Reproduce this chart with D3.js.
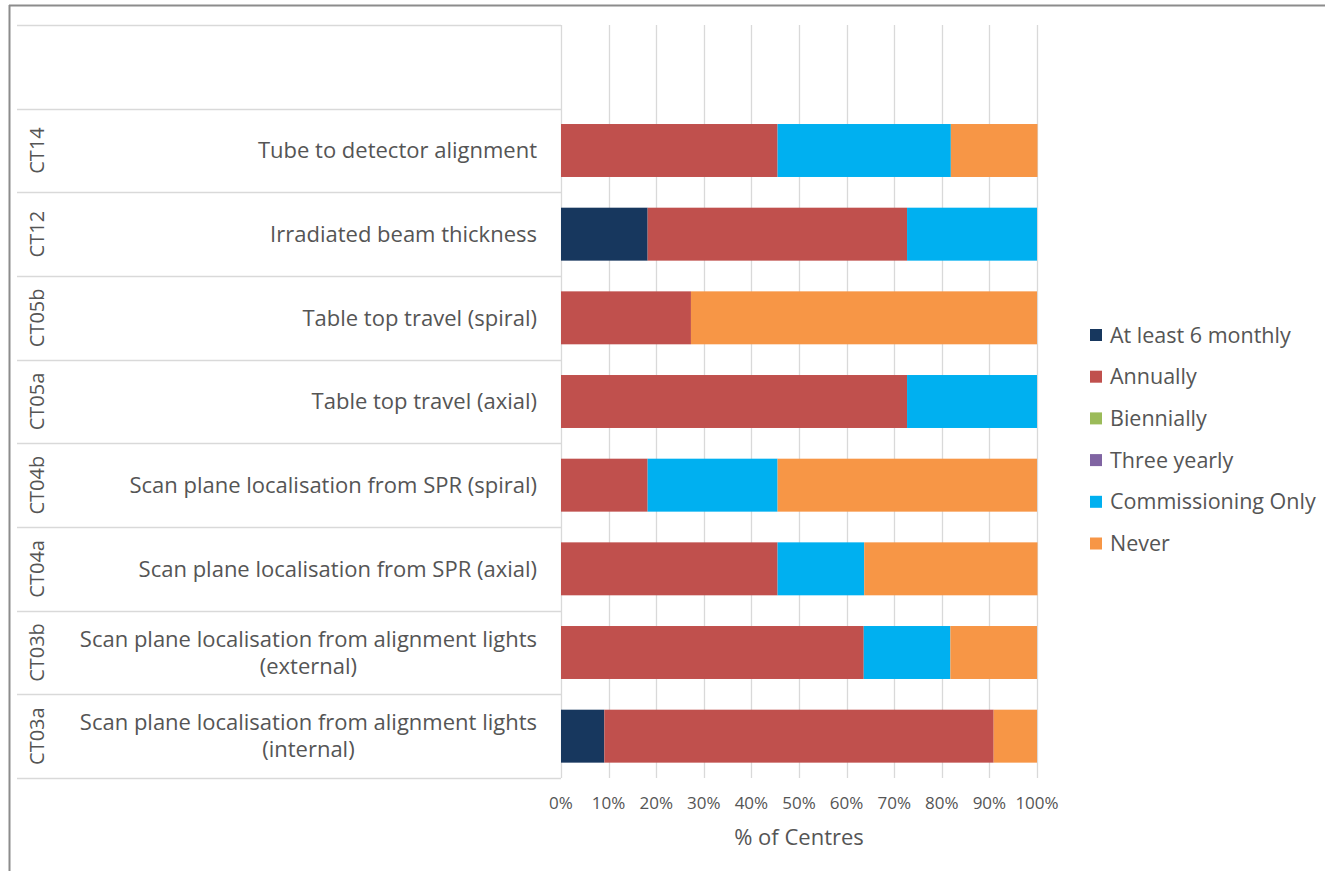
<!DOCTYPE html>
<html>
<head>
<meta charset="utf-8">
<script src="https://cdn.jsdelivr.net/npm/d3@7"></script>
<style>
  body { margin: 0; background: #fff; }
  svg text { font-family: "Open Sans", "Noto Sans", sans-serif; fill: #555; }
</style>
</head>
<body>
<div id="chart"></div>
<script>
"use strict";

// rows, top to bottom
const codes = ["CT14", "CT12", "CT05b", "CT05a", "CT04b", "CT04a", "CT03b", "CT03a"];
const labels = [
  ["Tube to detector alignment"],
  ["Irradiated beam thickness"],
  ["Table top travel (spiral)"],
  ["Table top travel (axial)"],
  ["Scan plane localisation from SPR (spiral)"],
  ["Scan plane localisation from SPR (axial)"],
  ["Scan plane localisation from alignment lights", "(external)"],
  ["Scan plane localisation from alignment lights", "(internal)"]
];

const seriesNames = ["At least 6 monthly", "Annually", "Biennially", "Three yearly", "Commissioning Only", "Never"];
const seriesColors = ["#17375E", "#C0504D", "#9BBB59", "#8064A2", "#00B0F0", "#F79646"];

// % of centres, one array per series, same order as codes
const sixMonthly     = [0, 18.2, 0, 0, 0, 0, 0, 9.1];
const annually       = [45.5, 54.5, 27.3, 72.7, 18.2, 45.5, 63.6, 81.8];
const biennially     = [0, 0, 0, 0, 0, 0, 0, 0];
const threeYearly    = [0, 0, 0, 0, 0, 0, 0, 0];
const commissioning  = [36.4, 27.3, 0, 27.3, 27.3, 18.2, 18.2, 0];
const never          = [18.2, 0, 72.7, 0, 54.5, 36.4, 18.2, 9.1];

const xTicks = [0, 10, 20, 30, 40, 50, 60, 70, 80, 90, 100];

const width = 1325, height = 871;
const svg = d3.select("#chart")
  .append("svg")
  .attr("width", width)
  .attr("height", height);

// outer frame (top and left edges only are visible)
svg.append("line").attr("x1", 9).attr("x2", width).attr("y1", 5.5).attr("y2", 5.5)
  .attr("stroke", "#8c8c8c").attr("stroke-width", 2);
svg.append("line").attr("x1", 9.5).attr("x2", 9.5).attr("y1", 5).attr("y2", height)
  .attr("stroke", "#8c8c8c").attr("stroke-width", 2);

const x = d3.scaleLinear().domain([0, 100]).range([561, 1037]);

// blank top row, as in the original
const plotTop = 25, plotBottom = 778;
const y = d3.scaleBand()
  .domain([""].concat(codes))
  .range([plotTop, plotBottom])
  .paddingInner(0.367)
  .paddingOuter(0.1835);

const step = y.step();

// gridlines
svg.append("g")
  .selectAll("line")
  .data(xTicks)
  .join("line")
  .attr("x1", d => Math.round(x(d)) + 0.5)
  .attr("x2", d => Math.round(x(d)) + 0.5)
  .attr("y1", plotTop)
  .attr("y2", plotBottom)
  .attr("stroke", "#d9d9d9")
  .attr("stroke-width", 1.3);

// category table lines
const rowEdges = d3.range(codes.length + 2).map(i => plotTop + i * step);
svg.append("g")
  .selectAll("line")
  .data(rowEdges)
  .join("line")
  .attr("x1", 17)
  .attr("x2", 561)
  .attr("y1", d => Math.round(d) + 0.5)
  .attr("y2", d => Math.round(d) + 0.5)
  .attr("stroke", "#d9d9d9")
  .attr("stroke-width", 1.3);

// stacked bars
const table = codes.map((c, i) => ({
  code: c,
  v0: sixMonthly[i], v1: annually[i], v2: biennially[i],
  v3: threeYearly[i], v4: commissioning[i], v5: never[i]
}));
const stack = d3.stack().keys(["v0", "v1", "v2", "v3", "v4", "v5"]);
const layers = stack(table);

svg.append("g")
  .selectAll("g")
  .data(layers)
  .join("g")
  .attr("fill", (d, i) => seriesColors[i])
  .selectAll("rect")
  .data(d => d.filter(s => s[1] - s[0] > 0))
  .join("rect")
  .attr("x", d => x(d[0]))
  .attr("width", d => x(d[1]) - x(d[0]))
  .attr("y", d => y(d.data.code))
  .attr("height", y.bandwidth());

// x tick labels
svg.append("g")
  .selectAll("text")
  .data(xTicks)
  .join("text")
  .attr("x", d => x(d))
  .attr("y", 809)
  .attr("text-anchor", "middle")
  .style("font-size", "17px")
  .text(d => d + "%");

svg.append("text")
  .attr("x", 799)
  .attr("y", 845)
  .attr("text-anchor", "middle")
  .style("font-size", "22px")
  .text("% of Centres");

// category labels
const labelRight = 537;
codes.forEach((c, i) => {
  const cy = y(c) + y.bandwidth() / 2;
  const lines = labels[i];
  const t = svg.append("text")
    .attr("y", cy)
    .style("font-size", "22px");
  if (lines.length === 1) {
    t.attr("x", labelRight)
      .attr("text-anchor", "end")
      .attr("dy", "0.35em")
      .text(lines[0]);
  } else {
    // multi-line: block right aligned, lines centred within block
    t.append("tspan").attr("x", 0).attr("dy", "-0.27em").text(lines[0]);
    const w = t.node().getBBox().width;
    t.attr("text-anchor", "middle");
    t.select("tspan").attr("x", labelRight - w / 2);
    t.append("tspan").attr("x", labelRight - w / 2).attr("dy", "1.23em").text(lines[1]);
  }

  svg.append("text")
    .attr("transform", `translate(${37},${cy}) rotate(-90)`)
    .attr("text-anchor", "middle")
    .attr("dy", "0.35em")
    .style("font-size", "20px")
    .text(c);
});

// legend
const legend = svg.append("g")
  .selectAll("g")
  .data(seriesNames)
  .join("g")
  .attr("transform", (d, i) => `translate(1090,${335 + i * 41.7})`);

legend.append("rect")
  .attr("x", 0)
  .attr("y", -6)
  .attr("width", 12)
  .attr("height", 12)
  .attr("fill", (d, i) => seriesColors[i]);

legend.append("text")
  .attr("x", 20)
  .attr("dy", "0.35em")
  .style("font-size", "21.5px")
  .text(d => d);
</script>
</body>
</html>
